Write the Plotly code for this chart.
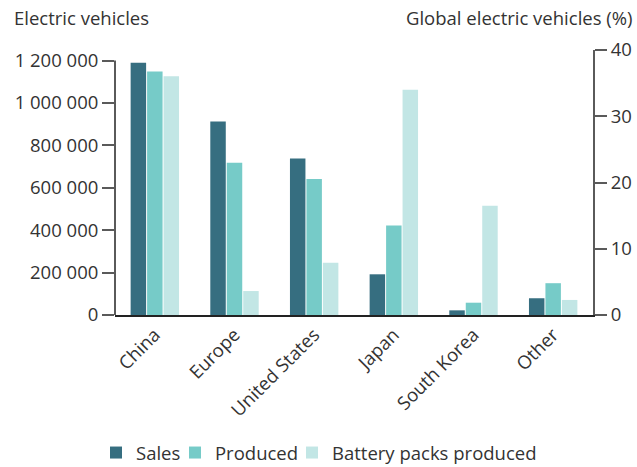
import plotly.graph_objects as go

categories = ["China", "Europe", "United States", "Japan", "South Korea", "Other"]
sales = [1190000, 913000, 738000, 192000, 22000, 79000]
produced = [1148000, 718000, 641000, 422000, 58000, 150000]
battery_packs = [1126000, 113000, 247000, 1063000, 515000, 71000]

left_tickvals = [0, 200000, 400000, 600000, 800000, 1000000, 1200000]
left_ticktext = ["0", "200 000", "400 000", "600 000", "800 000", "1 000 000", "1 200 000"]
right_tickvals = [0, 10, 20, 30, 40]
left_max = 1250000
right_max = 40

colors = {"Sales": "#366e80", "Produced": "#76cbc8", "Battery packs produced": "#c2e6e5"}
font_family = "Open Sans, DejaVu Sans, sans-serif"
text_color = "#333333"
axis_color = "#5a5a5a"
fs = 18.5

series = [("Sales", sales, "legend", -0.0397),
          ("Produced", produced, "legend2", 0.1255),
          ("Battery packs produced", battery_packs, "legend3", 0.3703)]

fig = go.Figure()
for name, vals, lg, _ in series:
    fig.add_trace(go.Bar(x=categories, y=vals, name=name, legend=lg,
                         marker=dict(color=colors[name], line=dict(width=0))))

fig.add_trace(go.Scatter(x=[categories[0]], y=[None], yaxis="y2", showlegend=False, hoverinfo="skip", mode="markers"))

legend_common = dict(orientation="h", xanchor="left", y=-0.5208, yanchor="middle",
                     font=dict(size=fs, color=text_color), itemwidth=30, bgcolor="rgba(0,0,0,0)")

fig.update_layout(
    width=637, height=467,
    margin=dict(l=115, r=44, t=50, b=152, autoexpand=False),
    paper_bgcolor="white", plot_bgcolor="white",
    font=dict(family=font_family, size=fs, color=text_color),
    barmode="group", bargap=0.38, bargroupgap=0.06,
    showlegend=True,
    legend=dict(x=series[0][3], **legend_common),
    legend2=dict(x=series[1][3], **legend_common),
    legend3=dict(x=series[2][3], **legend_common),
    xaxis=dict(showline=True, linecolor="#222222", linewidth=1.5, ticks="", tickangle=-45,
               tickfont=dict(size=fs, color=text_color), showgrid=False, zeroline=False),
    yaxis=dict(range=[0, left_max], tickvals=left_tickvals, ticktext=left_ticktext,
               showline=False, ticks="outside", ticklen=12, tickwidth=2, tickcolor=axis_color,
               showgrid=False, zeroline=False, tickfont=dict(size=fs, color=text_color)),
    yaxis2=dict(range=[0, right_max], tickvals=right_tickvals, overlaying="y", side="right",
                showline=True, linecolor=axis_color, linewidth=2, ticks="outside", ticklen=12,
                tickwidth=2, tickcolor=axis_color, showgrid=False, zeroline=False,
                tickfont=dict(size=fs, color=text_color)),
    shapes=[dict(type="line", xref="paper", x0=0, x1=0, yref="y", y0=0, y1=max(left_tickvals),
                 line=dict(color=axis_color, width=2))],
    annotations=[
        dict(text="Electric vehicles", xref="paper", yref="paper", x=-0.2155, y=1.1245,
             xanchor="left", yanchor="middle", showarrow=False, font=dict(size=fs, color=text_color)),
        dict(text="Global electric vehicles (%)", xref="paper", yref="paper", x=1.0879, y=1.1245,
             xanchor="right", yanchor="middle", showarrow=False, font=dict(size=fs, color=text_color)),
    ],
)

fig.write_html("out.html", config={"displayModeBar": False},
               post_script="document.body.style.margin='0px';")
